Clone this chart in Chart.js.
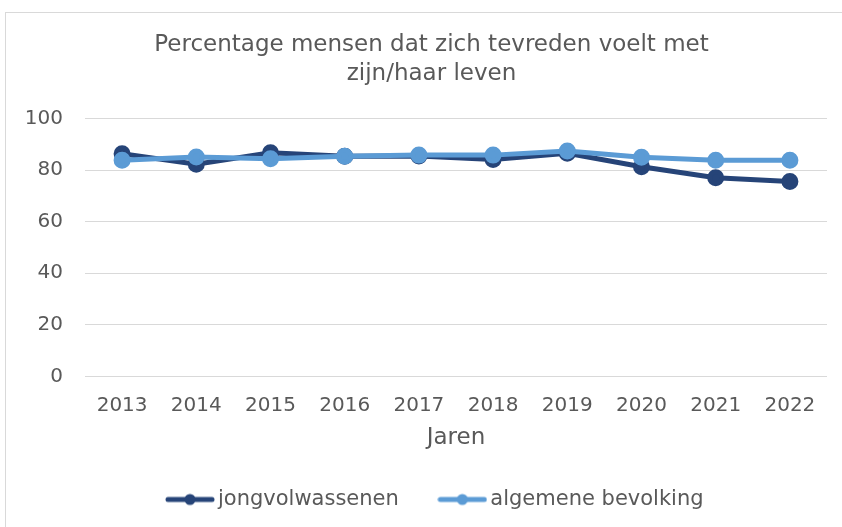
<!DOCTYPE html>
<html>
<head>
<meta charset="utf-8">
<script src="https://cdn.jsdelivr.net/npm/chart.js@4"></script>
<style>
  body { margin: 0; background: #fff; }
  #frame { position: absolute; left: 5px; top: 12px; width: 850px; height: 530px; border: 1px solid #d9d9d9; }
  #wrap { position: absolute; left: 0; top: 0; width: 842px; height: 527px; }
</style>
</head>
<body>
<div id="frame"></div>
<div id="wrap"><canvas id="chart" width="842" height="527"></canvas></div>
<script>
// chart data
const years = ['2013', '2014', '2015', '2016', '2017', '2018', '2019', '2020', '2021', '2022'];
const jongvolwassenen = [86.3, 82.3, 86.7, 85.4, 85.5, 84.1, 86.5, 81.3, 77.0, 75.6];
const algemeneBevolking = [83.8, 85.1, 84.4, 85.4, 85.8, 85.8, 87.4, 85.0, 83.8, 83.8];
const yTicks = [0, 20, 40, 60, 80, 100];

const darkBlue = '#264478';
const lightBlue = '#5b9bd5';
const textGrey = '#595959';
const font = 'DejaVu Sans, Verdana, sans-serif';
const legendPad = 46;
const markerW = 35;

// line + dot marker for the legend
function legendMarker(color) {
    const c = document.createElement('canvas');
    c.width = 50;
    c.height = 14;
    const g = c.getContext('2d');
    g.strokeStyle = color;
    g.lineWidth = 5;
    g.lineCap = 'round';
    g.beginPath();
    g.moveTo(3, 7);
    g.lineTo(47, 7);
    g.stroke();
    g.fillStyle = color;
    g.beginPath();
    g.arc(25, 7, 5.5, 0, Math.PI * 2);
    g.fill();
    return c;
}

// place title and legend where the original has them
const placeBoxes = {
    id: 'placeBoxes',
    afterLayout(chart) {
        if (chart.titleBlock) { chart.titleBlock.left += 8; chart.titleBlock.right += 8; }
        const lg = chart.legend;
        if (lg && lg.lineWidths) {
            const x0 = (lg.left + legendPad + lg.right - lg.lineWidths[0]) / 2;
            const dx = (165 + 25 - markerW / 2) - x0;
            lg.left += dx; lg.right += dx;
            lg.top = 500 - legendPad - 11;
            lg.bottom = chart.height;
            lg.height = lg.bottom - lg.top;
        }
    }
};

const ctx = document.getElementById('chart').getContext('2d');
new Chart(ctx, {
    type: 'line',
    data: {
        labels: years,
        datasets: [{
            label: 'jongvolwassenen',
            data: jongvolwassenen,
            borderColor: darkBlue,
            backgroundColor: darkBlue,
            borderWidth: 5,
            pointRadius: 6,
            pointHoverRadius: 6,
            order: 2
        }, {
            label: 'algemene bevolking',
            data: algemeneBevolking,
            borderColor: lightBlue,
            backgroundColor: lightBlue,
            borderWidth: 5,
            pointRadius: 6,
            pointHoverRadius: 6,
            order: 1
        }]
    },
    options: {
        responsive: false,
        animation: false,
        layout: { padding: { left: 20, right: 15, top: 18, bottom: 15 } },
        scales: {
            x: {
                offset: true,
                grid: { display: false, drawTicks: false },
                border: { display: false },
                ticks: { color: textGrey, font: { family: font, size: 20 }, padding: 17 },
                title: { display: true, text: 'Jaren', color: textGrey, font: { family: font, size: 23 }, padding: { top: -10, bottom: 0 } }
            },
            y: {
                min: 0,
                max: 100,
                afterBuildTicks(scale) { scale.ticks = yTicks.map(v => ({ value: v })); },
                afterFit(scale) { scale.width = 65; },
                grid: { color: '#d9d9d9', lineWidth: 1, drawTicks: false },
                border: { display: false },
                ticks: { color: textGrey, font: { family: font, size: 20 }, padding: 22 }
            }
        },
        plugins: {
            title: {
                display: true,
                text: ['Percentage mensen dat zich tevreden voelt met', 'zijn/haar leven'],
                color: textGrey,
                font: { family: font, size: 23, weight: 'normal', lineHeight: 1.25 },
                padding: { top: 13, bottom: 30 }
            },
            legend: {
                position: 'bottom',
                maxHeight: 60,
                labels: {
                    color: textGrey,
                    font: { family: font, size: 21 },
                    usePointStyle: true,
                    pointStyleWidth: markerW,
                    padding: legendPad,
                    generateLabels(chart) {
                        return chart.data.datasets.map((ds, i) => ({
                            text: ds.label,
                            fillStyle: ds.borderColor,
                            strokeStyle: ds.borderColor,
                            fontColor: textGrey,
                            lineWidth: 0,
                            pointStyle: legendMarker(ds.borderColor),
                            hidden: !chart.isDatasetVisible(i),
                            datasetIndex: i
                        }));
                    }
                }
            },
            tooltip: { enabled: false }
        }
    },
    plugins: [placeBoxes]
});
</script>
</body>
</html>
